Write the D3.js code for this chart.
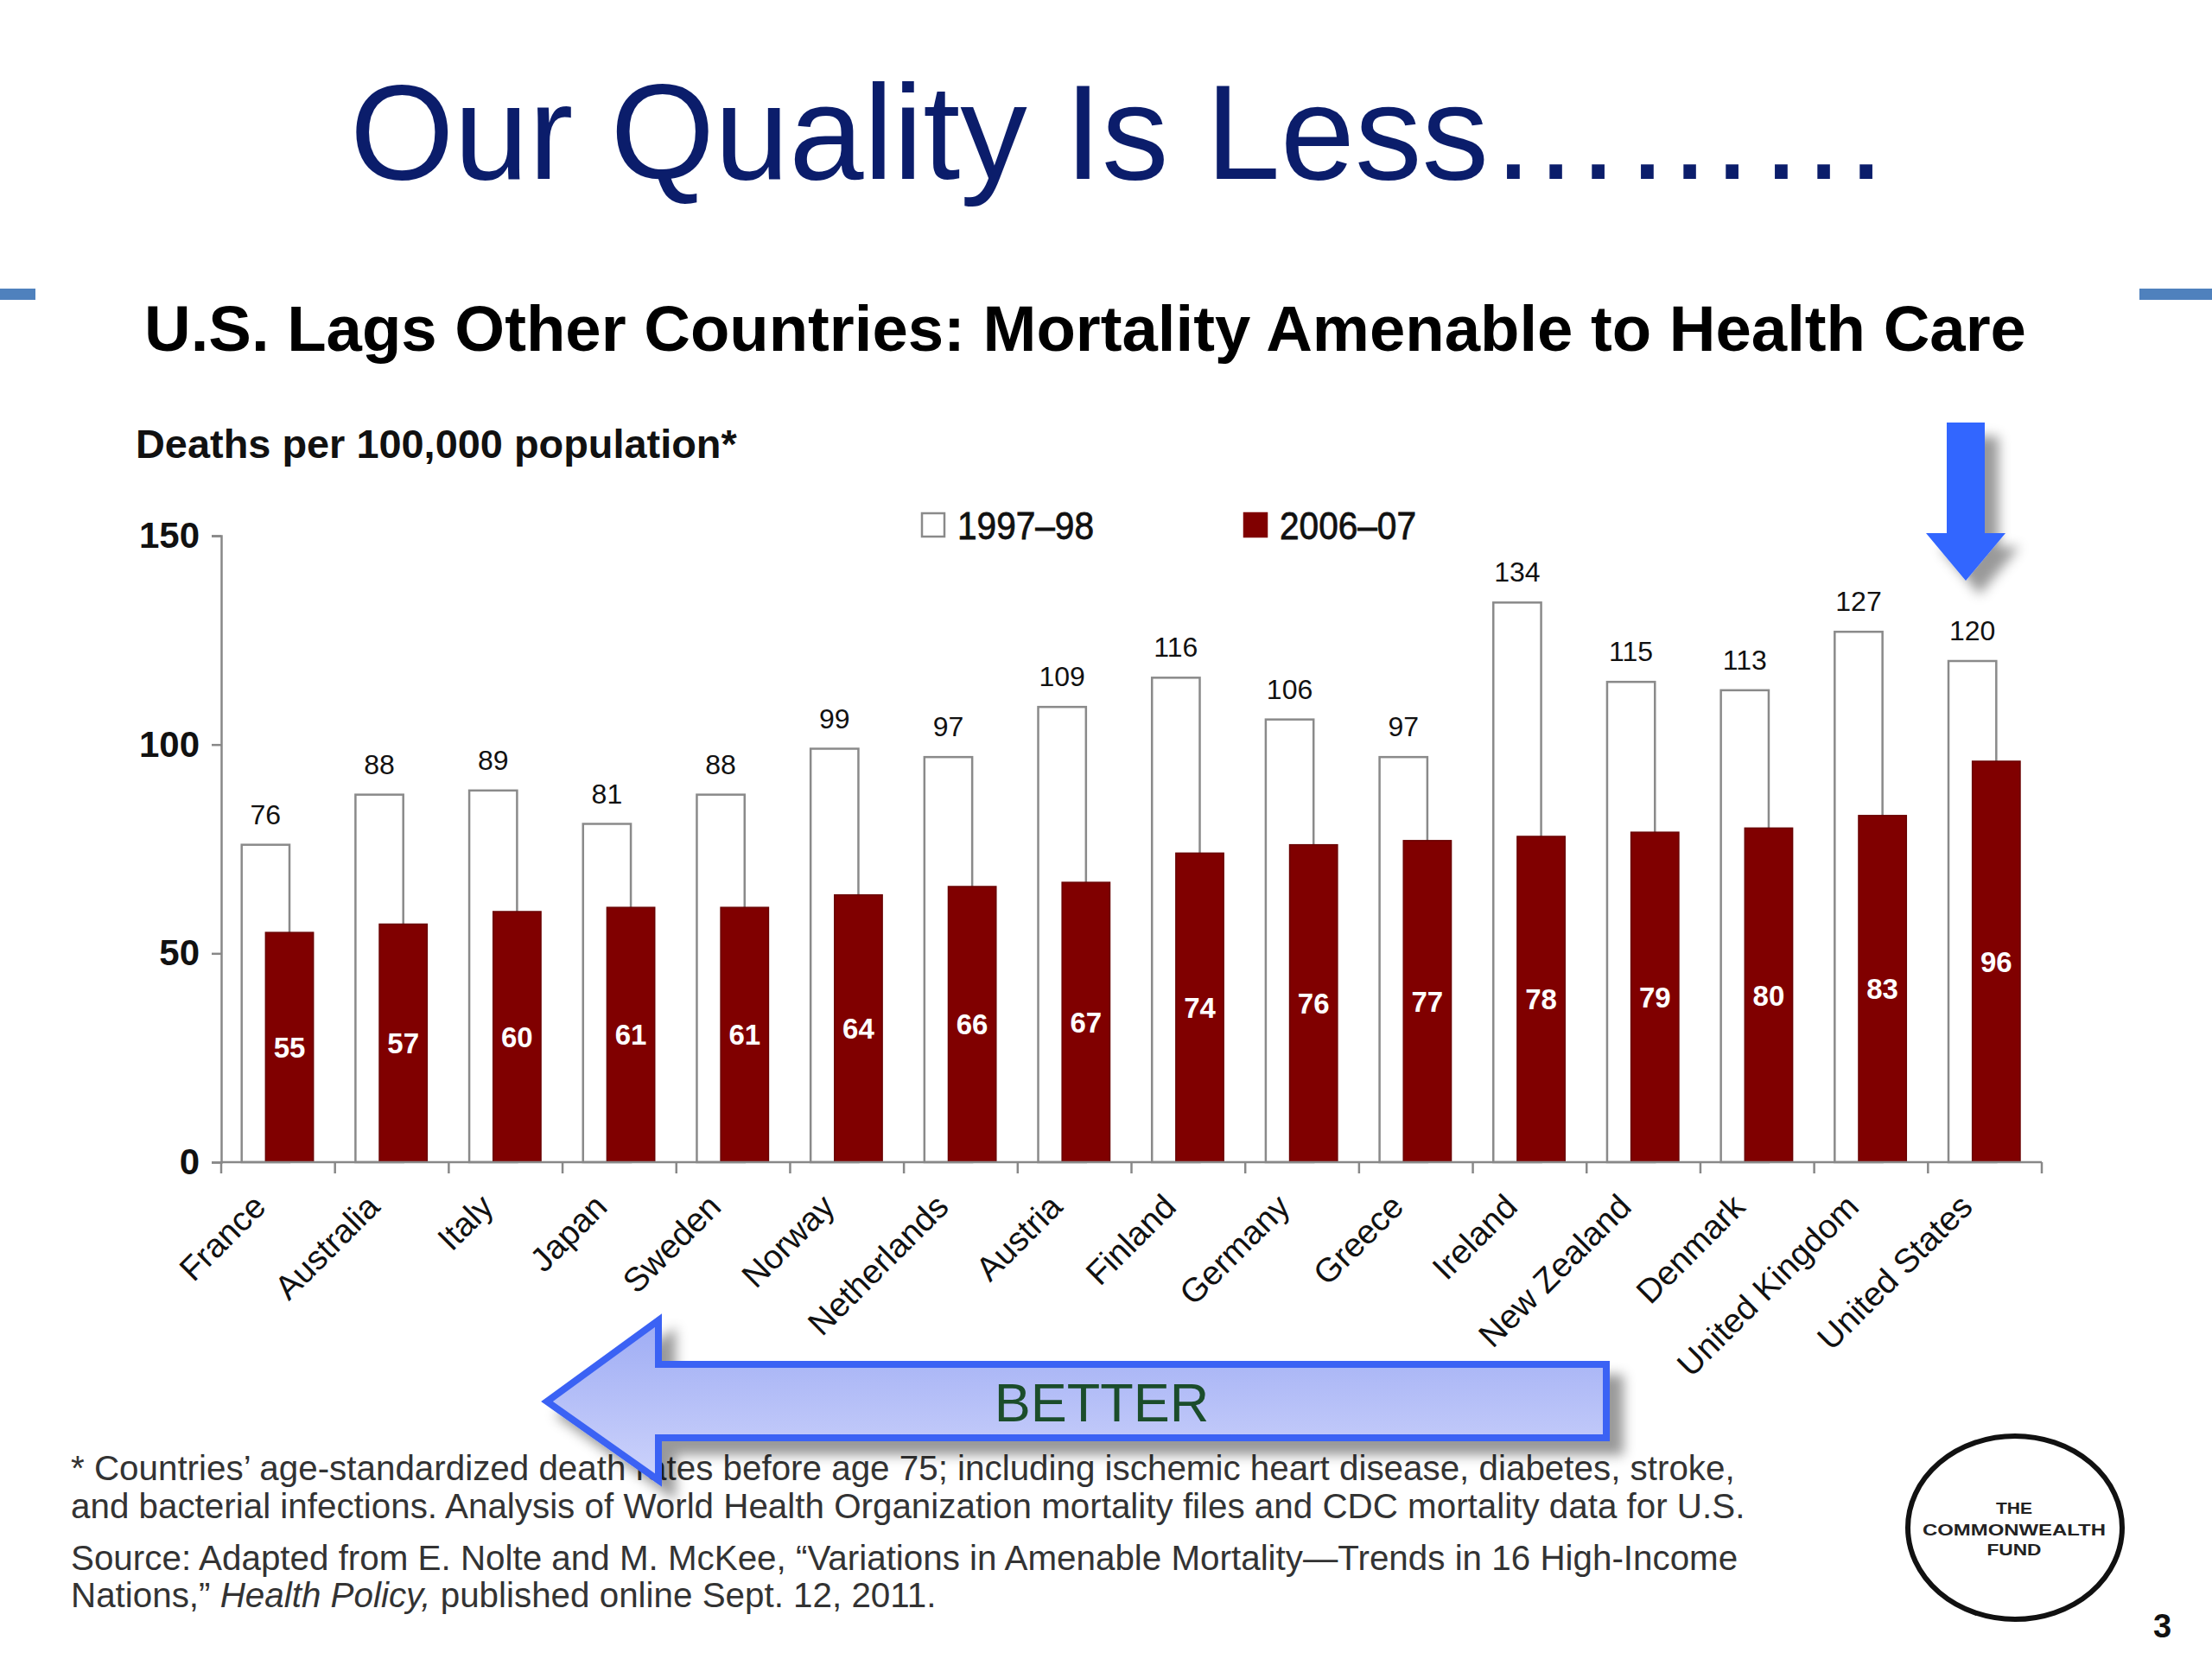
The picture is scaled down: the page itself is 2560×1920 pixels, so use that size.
<!DOCTYPE html>
<html>
<head>
<meta charset="utf-8">
<script src="https://cdn.jsdelivr.net/npm/d3@7"></script>
<style>
  body { margin: 0; background: #fff; }
  text { font-family: "Liberation Sans", Arial, sans-serif; }
</style>
</head>
<body>
<div id="slide"></div>
<script>
// data
var countries = ["France", "Australia", "Italy", "Japan", "Sweden", "Norway", "Netherlands",
  "Austria", "Finland", "Germany", "Greece", "Ireland", "New Zealand", "Denmark",
  "United Kingdom", "United States"];
var rates9798 = [76, 88, 89, 81, 88, 99, 97, 109, 116, 106, 97, 134, 115, 113, 127, 120];
var rates0607 = [55, 57, 60, 61, 61, 64, 66, 67, 74, 76, 77, 78, 79, 80, 83, 96];
var seriesNames = ["1997–98", "2006–07"];
var yTicks = [0, 50, 100, 150];

var footLines = [
  "* Countries’ age-standardized death rates before age 75; including ischemic heart disease, diabetes, stroke,",
  "and bacterial infections. Analysis of World Health Organization mortality files and CDC mortality data for U.S.",
  "Source: Adapted from E. Nolte and M. McKee, “Variations in Amenable Mortality—Trends in 16 High-Income"
];

var svgWidth = 2560;
var svgHeight = 1920;

var svg = d3.select("#slide")
  .append("svg")
  .attr("width", svgWidth)
  .attr("height", svgHeight);

var defs = svg.append("defs");

var shadow = defs.append("filter")
  .attr("id", "shadow")
  .attr("x", "-20%").attr("y", "-20%")
  .attr("width", "150%").attr("height", "150%");
shadow.append("feDropShadow")
  .attr("dx", 16).attr("dy", 16)
  .attr("stdDeviation", 7)
  .attr("flood-color", "#000")
  .attr("flood-opacity", 0.4);

var grad = defs.append("linearGradient")
  .attr("id", "arrowFill")
  .attr("x1", 0).attr("y1", 0).attr("x2", 0).attr("y2", 1);
grad.append("stop").attr("offset", "0%").attr("stop-color", "#9eacf4");
grad.append("stop").attr("offset", "100%").attr("stop-color", "#cdd3fb");

// shrink/grow font so a string spans a given width
function fitWidth(sel, target) {
  var fs = parseFloat(sel.attr("font-size"));
  var w = sel.node().getComputedTextLength();
  sel.attr("font-size", fs * target / w);
}

// slide title
var title = svg.append("text")
  .attr("x", 405)
  .attr("y", 207)
  .attr("font-size", 156)
  .attr("fill", "#0b1d6b")
  .text("Our Quality Is Less………");
fitWidth(title, 1783);

// blue accent bars
svg.append("rect").attr("x", 0).attr("y", 334).attr("width", 41).attr("height", 13)
  .attr("fill", "#4f81bd");
svg.append("rect").attr("x", 2476).attr("y", 334).attr("width", 84).attr("height", 13)
  .attr("fill", "#4f81bd");

var subtitle = svg.append("text")
  .attr("x", 167)
  .attr("y", 406)
  .attr("font-size", 62)
  .attr("font-weight", "bold")
  .attr("fill", "#000")
  .text("U.S. Lags Other Countries: Mortality Amenable to Health Care");
fitWidth(subtitle, 2178);

var yLabel = svg.append("text")
  .attr("x", 157)
  .attr("y", 530)
  .attr("font-size", 40)
  .attr("font-weight", "bold")
  .attr("fill", "#111")
  .text("Deaths per 100,000 population*");
fitWidth(yLabel, 696);

// chart scales
var xScale = d3.scaleBand()
  .domain(countries)
  .range([256, 2363]);
var bw = xScale.bandwidth();

var yScale = d3.scaleLinear()
  .domain([0, 150])
  .range([1345, 620]);

var chartGroup = svg.append("g");

var data = countries.map(function(c, i) {
  return { country: c, a: rates9798[i], b: rates0607[i] };
});

// 1997-98 bars
chartGroup.selectAll(".barA")
  .data(data)
  .enter()
  .append("rect")
  .attr("class", "barA")
  .attr("x", d => xScale(d.country) + bw * 0.18)
  .attr("y", d => yScale(d.a))
  .attr("width", bw * 0.42)
  .attr("height", d => yScale(0) - yScale(d.a))
  .attr("fill", "#fff")
  .attr("stroke", "#8a8a8a")
  .attr("stroke-width", 2.5);

// 2006-07 bars
chartGroup.selectAll(".barB")
  .data(data)
  .enter()
  .append("rect")
  .attr("class", "barB")
  .attr("x", d => xScale(d.country) + bw * 0.39)
  .attr("y", d => yScale(d.b))
  .attr("width", bw * 0.42)
  .attr("height", d => yScale(0) - yScale(d.b))
  .attr("fill", "#800000")
  .attr("stroke", "#6a0000")
  .attr("stroke-width", 1.5);

chartGroup.selectAll(".lblA")
  .data(data)
  .enter()
  .append("text")
  .attr("class", "lblA")
  .attr("x", d => xScale(d.country) + bw * 0.39)
  .attr("y", d => yScale(d.a) - 24)
  .attr("text-anchor", "middle")
  .attr("font-size", 32)
  .attr("fill", "#111")
  .text(d => d.a);

chartGroup.selectAll(".lblB")
  .data(data)
  .enter()
  .append("text")
  .attr("class", "lblB")
  .attr("x", d => xScale(d.country) + bw * 0.60)
  .attr("y", d => (yScale(d.b) + yScale(0)) / 2)
  .attr("dy", "0.36em")
  .attr("text-anchor", "middle")
  .attr("font-size", 33)
  .attr("font-weight", "bold")
  .attr("fill", "#fff")
  .text(d => d.b);

// y axis
var yAxis = d3.axisLeft(yScale).tickValues(yTicks).tickSize(11).tickPadding(14);
var yG = chartGroup.append("g")
  .attr("transform", "translate(256,0)")
  .call(yAxis);
yG.selectAll("path, line").attr("stroke", "#888").attr("stroke-width", 2.5);
yG.selectAll("text")
  .attr("font-size", 42)
  .attr("font-weight", "bold")
  .attr("fill", "#111")
  .style("font-family", "'Liberation Sans', Arial, sans-serif");

// x axis: ticks between categories
chartGroup.append("line")
  .attr("x1", 256).attr("x2", 2363)
  .attr("y1", yScale(0)).attr("y2", yScale(0))
  .attr("stroke", "#888").attr("stroke-width", 2.5);
var edges = countries.map(c => xScale(c)).concat([xScale.range()[1]]);
chartGroup.selectAll(".xtick")
  .data(edges)
  .enter()
  .append("line")
  .attr("x1", d => d).attr("x2", d => d)
  .attr("y1", yScale(0)).attr("y2", yScale(0) + 13)
  .attr("stroke", "#888").attr("stroke-width", 2.5);

chartGroup.selectAll(".country")
  .data(countries)
  .enter()
  .append("text")
  .attr("class", "country")
  .attr("transform", d => "translate(" + (xScale(d) + bw / 2 - 12) + "," + (yScale(0) + 54) + ") rotate(-45)")
  .attr("text-anchor", "end")
  .attr("font-size", 39)
  .attr("fill", "#111")
  .text(d => d);

// legend
var legend = svg.append("g");
var legendX = [1067, 1440];
seriesNames.forEach(function(name, i) {
  legend.append("rect")
    .attr("x", legendX[i]).attr("y", 594)
    .attr("width", 26).attr("height", 27)
    .attr("fill", i === 0 ? "#fff" : "#800000")
    .attr("stroke", i === 0 ? "#8a8a8a" : "#800000")
    .attr("stroke-width", 2.5);
  legend.append("text")
    .attr("x", legendX[i] + 41)
    .attr("y", 624)
    .attr("font-size", 44)
    .attr("textLength", 158)
    .attr("lengthAdjust", "spacingAndGlyphs")
    .attr("fill", "#111")
    .attr("stroke", "#111")
    .attr("stroke-width", 0.8)
    .text(name);
});

// blue down arrow pointing at the U.S.
svg.append("path")
  .attr("d", "M2253,489 L2297,489 L2297,617 L2321,617 L2275,672 L2229,617 L2253,617 Z")
  .attr("fill", "#3366ff")
  .attr("filter", "url(#shadow)");

// footnotes
var footGroup = svg.append("g").attr("fill", "#333");
var footY = [1713, 1757, 1817];
var firstFoot = footGroup.append("text")
  .attr("x", 82).attr("y", footY[0])
  .attr("font-size", 34)
  .text(footLines[0]);
fitWidth(firstFoot, 1926);
var footSize = parseFloat(firstFoot.attr("font-size"));
footLines.slice(1).forEach(function(line, i) {
  footGroup.append("text")
    .attr("x", 82).attr("y", footY[i + 1])
    .attr("font-size", footSize)
    .text(line);
});
var lastFoot = footGroup.append("text")
  .attr("x", 82).attr("y", 1860)
  .attr("font-size", footSize);
lastFoot.append("tspan").text("Nations,” ");
lastFoot.append("tspan").attr("font-style", "italic").text("Health Policy,");
lastFoot.append("tspan").text(" published online Sept. 12, 2011.");

// BETTER arrow (drawn over the footnote like on the slide)
svg.append("path")
  .attr("d", "M633,1622 L762,1528 L762,1579 L1859,1579 L1859,1664 L762,1664 L762,1713 Z")
  .attr("fill", "url(#arrowFill)")
  .attr("stroke", "#3b62f4")
  .attr("stroke-width", 8)
  .attr("stroke-linejoin", "miter")
  .attr("filter", "url(#shadow)");
svg.append("text")
  .attr("x", 1275)
  .attr("y", 1645)
  .attr("text-anchor", "middle")
  .attr("font-size", 63)
  .attr("fill", "#1b4d2b")
  .text("BETTER");

// Commonwealth Fund logo
svg.append("ellipse")
  .attr("cx", 2332).attr("cy", 1768)
  .attr("rx", 124).attr("ry", 106)
  .attr("fill", "none")
  .attr("stroke", "#111")
  .attr("stroke-width", 6);
var logoLines = [["THE", 1752, 42], ["COMMONWEALTH", 1777, 212], ["FUND", 1800, 63]];
logoLines.forEach(function(l) {
  svg.append("text")
    .attr("x", 2331).attr("y", l[1])
    .attr("text-anchor", "middle")
    .attr("font-size", 19)
    .attr("font-weight", "bold")
    .attr("textLength", l[2])
    .attr("lengthAdjust", "spacingAndGlyphs")
    .attr("fill", "#222")
    .text(l[0]);
});

svg.append("text")
  .attr("x", 2492).attr("y", 1895)
  .attr("font-size", 38)
  .attr("font-weight", "bold")
  .attr("fill", "#111")
  .text("3");
</script>
</body>
</html>
